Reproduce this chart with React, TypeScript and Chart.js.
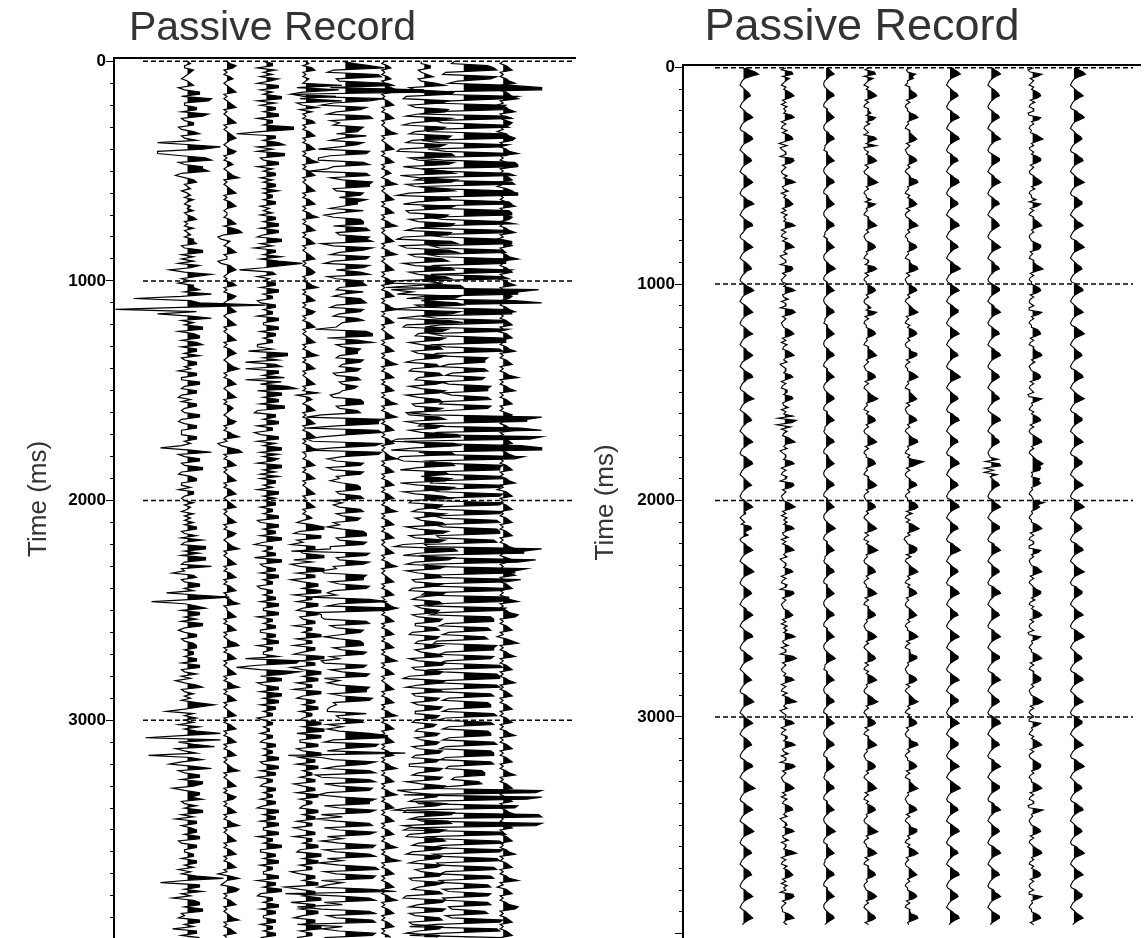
import React, { useEffect, useRef } from 'react';
import { Chart, registerables } from 'chart.js';

Chart.register(...registerables);

// Sampling interval of every trace, in milliseconds.
const SAMPLE_MS = 10;
// Times that carry a label and a dashed reference line.
const LABELED_TIMES = [0, 1000, 2000, 3000];
const PANEL_TITLE = 'Passive Record';
const AXIS_TITLE = 'Time (ms)';

// Trace amplitudes, one character per 10 ms sample, grouped by 100 ms.
// '0' = 0, 'A'..'Z' = +1..+26, 'a'..'z' = -1..-26 (amplitude steps).

// Left record: nine noisy channels.
const L1 = [
  '0AaaBA0ab0 ABcaDDbHGa aCCbGEbaBB cbBDbaCjAK EjjbFHcaEE GbdaBCa0Ab 0AaB0aA0Ba 0BCa0aBa0A aBBCbaEEbB bBcDAfaHCb',
  'AcBBDaHbrA DZbxCjAHbB aEEcBDDbCE bCCaDbaCCa AcCCbbDDab CCbcAbCCab aDDbcaCCbb bCCaAbiAHc aDDbaEEbcA CCbbAcBBab',
  'aBaA0bBaAa BaCCbaCbEa bFFaDbFFab HbaeBCbaDD aBgCNBlaCF bDDaCbEEac aCCbaBCCaB BaCCbDDbaC bAdaCEbaBa AbCIDagBaC',
  'aBcDaCKbnK cBIdaCmAEb fBHcaDDbEE BeaDDAEbaC aEEbBdCCbA CCaDDcbCCa aBBbCCaBcA bCLaiDDaEb AeBDDaEEba cDDaBeCCbD',
];
const L2 = [
  '0ACBa0aAB0 a0ABCa0a0A BCa0a0ABCa 0a0ABCA0a0 ACBa0aAB0a 0ABDa0a0AB Ca0aABC0a0 0aABCaBDEa cbA0aABCa0 0cbABCA0a0',
  'aBCa0aACB0 a0ABC0a0AB Ca0a0ABCa0 aABCA0a0AB DAa0aABC0a 0ABCa0aABA 0a0ACBa0aA BDa0cbADEa 0aABCa0a0A BCa0aABC0a',
  '0ABCa0a0AB Ca0aACB0a0 ABDa0a0ABC a0aABCa0aA BCa0aABDa0 0ABCa0aABC a0a0ACDa0a ABCa0a0ABC a0aABDa0aA BCa0a0ABCa',
  '0aABCa0aAB Ca0aABCa0a 0ABDa0a0AB Ca0aACBa0a ABCa0aABDa 0a0ABCa0aA BCa0aABCa0 cAD0abBDCa 0aABCa0a0A BDa0aABCa0',
];
const L3 = [
  'aBBcCaBbDA cDDbBaEEcC bCCaDDcBBa IIbjCCaDFc BcFFbaDDcB aCCbBaCCaD aBBaCCbAaB bCCaDDbDDa cEEbBdCCaE bDLEaiBCcA',
  'aCCbDDaBBc bCCaBBcDDa aDDbCCaBBc cBfGGaDgCE gDDaFgEbGJ cEEaDDbFFc dCCaDDcBBd bDDcCaEEbD aDBcEEaCbD bCCaBcDDaC',
  'aCCbBBaDDc bDDaCCbEEa dBBaCCdEEb aCCbDDaBBc bBBaCCbDDa aDDcBBaCCb bCCaDDcBBa aDgKJcjbKF bEEcaDDbEE aDDbCCaBBc',
  'aBBaAAbBBa bCCaBBaDDb aDDbCCcBBa bCCaBBbCCa cDDaCCbDDa aDDcBBaEEb bCCaDDbBBa aDDcCCaEEb cBBaDDbCCa aCCbBBaCCb',
];
const L4 = [
  '0AaBCa0aA0 aLcKaeJbLc aDbBa0aBCa 0aABCa0aAB Ca0aABDa0a ABCa0a0ABC a0aABCa0aA BDa0aABCa0 aABCa0a0AB Ca0aABCBa0',
  'aABDa0aABC a0aACBa0aA BCa0a0ABCa 0aABDa0aAB Ca0a0ABCa0 aDcAB0aABC a0aABCa0aA BCa0aABDa0 0aABCa0aAB Ca0a0ABCa0',
  'aABCa0aABa cBFFbdEEca eCCbaFFdBe bFFcCCeaDD aEEdBBcDDa cDDbaCCdBB aEEcBBdCCa dFFbCCeaEE aDDcBBdEEa cCCaDDbBBa',
  'bEEaFFcEEb bDDcaEEbCC cDDaBBbCCd aCCcDDbBBa bDDaCCcBBd aCCdBBaDDb cEEaDDbBBe bCCaDDgbCC aEEeCCbDDa dCCaEEbBBc',
];
const L5 = [
  'aCHMdfKLcb NPeZZrnMHd hGEcfHIebd FEDcGaeFDb iHGeiiFHdf lGHeaIHHdc FEbGDDaeFb gdEFFdGHcb HGIhdIFbeH GdgHFcEHfc',
  'EFGbcFadEF GceFEbdDFa bcjGIIfDIc aEDDbcFEab EDdcDEbaDC abedEFFcbD EhmLKKcmKL AhmkLJdmLK afcFEfdFEc beaDEEcbEF',
  'eadbEFcaED dbfaFGGcbG FeerHGcbHF dchgGFFebH GdfclHNbfQ NjhhgGHecF EagbEFFdaG FebhgGFeaH GgbfbHGGea IHdceffGcb',
  'EFfafbHNNd gKJafTshdJ GcgHJjhHJg bIHfiaJHHg bJHhajcHIg bJHfahbJIg cHJfaibJKg cJIhafiIQt cHJgaphHJf cIJpahbJIg',
];
const L6 = [
  '0aABa0aABa 0ABDCa0aAB Ca0aABCa0a 0ABDa0a0AB Ca0aABCa0a AB0aABDa0a 0ABCa0aABC a0aABDa0a0 ABCa0aABDa 0a0ABCa0aA',
  'BCa0aABCa0 aABDa0aABC a0a0ABCa0a ABCa0aABDa 0aABCa0aAB Ca0aABDa0a ABDa0aABCa 0aABCa0a0A BDa0aABCa0 aABCa0aABC',
  'a0aABDa0aA BCa0aABCa0 a0ABCa0aAB Da0a0ABCa0 aABCa0aABD a0aABCa0aA BCa0aABCa0 aABDa0aABC a0a0ABCa0a ABCa0aABDa',
  '0aABCa0aAB Ca0aABCa0a ABDa0aABCa 0aABDa0aAB Ca0aABCa0a ABCa0aABDa 0aABEa0aAB Ca0aABCa0a ABDa0aABCa 0aABCa0aAB',
];
const L7 = [
  'aaBBbaACba DGecJIfgHF ecHGbfIEdg GFceIHdfGE hiIJebJHga GJhbKIfcGJ eiHIbgJHfe HGebJIcfIH giIKhfHKec FHgcIJebGI',
  'jlLMkdiLJa KMckLIbiHM fgHFbcGEea EFdbGEcfDE deEFbcGDea GEfbEFdcFD feEGfbFDea KLikJLckIJ higIJbhGHa IGhbJHgcFI',
  'deFEbdGDca FGfbHFecGE gjJKbgJHcf GEfbEFdcFD deGFbdEFca EDdbFEccDE deEDbcFCca EFebGFdcFE egGFbfEFdc EDdbFEccED',
  'cdDCbcEDca EDdbFEcdED eeFEbdFEfa GFidEDceGD fjJIbeHIgc GEefFGbdGE dfFEbeFDca FEedGDbdEF fgGFbeGFec EFedFEbfED',
];
const L8 = [
  'cdHJKfgKIb ePZZohRNdk NMMlnNPjgM OklMOOnhOL lfPNpgQRRn hOQmpPQoiN RRmgOPnhOP PlgMQknNOm gLPPkhMNlh ONNjgPMkMO',
  'ngozYRRmsQ ZpnOPPniMN hmOLkgMNNj fLMikHGGeh GHdfGFheIH HgdHIghIHe skZUUnoSZi kZVtmSZZoj TQlhMLLkgL MjkMLlhMLj',
  'kMLlhMLjgK LjgKLLihJK mlZTTnkXRm kUQQliSNkj OLmnOOLilN MhkIJJfhHI egGHijKJJf hJIfhLMkgK LLgiKLhiIJ egHIIegJKf',
  'iIJegHIIeg JKfhIJJfhI JefFGGcdEF cnZXtZUpoR QstYZpnZXr tMNlhLMgkM LjgKLihJKf hIJhfHIgeI HgfHIedGHf dMLirKLgrM',
];
const L9 = [
  '0aABCa0aAB Da0bABCEa0 bABDa0aACB a0bABDCa0a ABEa0aABDa 0aABCa0bAC Da0aABDa0a ACBa0aABDa 0bABCa0aAB Ea0aABCa0b',
  'ABDa0aACBa 0aABDa0aAB Ca0bABCa0a ABDa0aABCa 0aABEa0aAB Da0aABCa0a ACBa0aABDa 0bABCa0aAB Da0aABCa0a ABDa0bABCa',
  '0aABCa0aAB Ca0aABCa0a ABDa0aACBa 0aABDa0aAB Ca0aABEa0a ABEDa0aABC a0bACEa0aA BDa0aABCa0 aABDa0aABC a0aABCa0aA',
  'BCa0aABDa0 aABCa0aABC a0aABDa0aA BCa0aABCa0 aABDa0aABC a0aABCa0aA BDa0aABCa0 aABEa0bABC a0aABEDa0a ABCa0aABCa',
];

// Right record: nine channels with a regular pulse every 100 ms.
const R1 = [
  'BEJMFAabca ACEFCAabca ACFHDAabcb BDGHEAabca ACFGDAabca BCFHEBabcb ACGIDAabca ADGHCA0bcb ACFHDAabca BDFGCAabcb',
  'ACGIEAabca BDFHDAabcb ACEHDAabca BCFHEBabca ADGHCAabcb ACFIDAabca BDFGCAabca ACFHDBabcb BDGHEAabca ACEGCAabcb',
  'ACFHDABaca AbFGCADacb ACFHDAabca BDGIEAabcb ACFGDAabca BCFHEBabca ADGHCAabcb ACFHDAabca ACEGCAabcb BDGIEAabca',
  'ACFHDAabca BDFGCAabcb ACGHDAabca BDGJEAabcb ACFHDAabca BDGIEAabcb ACFGCAabca ADFGCAabcb ACFHDAabca BDFHDAa',
];
const R2 = [
  'AcFGbDAacA aCFHDbAcBa AaFHBcAbcB bCFGAeBdbA AdGHEbAacb BaFIBbaCcA aCEGDbAcBa AaFIBcAbcB bCFHAaBdbA AdFGEbAacb',
  'BaFIBbaCcA AdGIEbAacb aCFHDbAcBa bCFHAaBdbA AaEGBcAbcB BaFGBbaCcA aGfJFgEcBa bCFIAaBdbA AaFHBcAbcB AdGHEbAacb',
  'aCFIDbAcBa BaFHBbaCcA bCFHAaBdbA AaEGBcAbcB AdGHEbAacb aCEGDbAcBa BaFIBbaCcA AdGJEbAacb AaFHBcAbcB bCFJAaBdbA',
  'AaFHBcAbcB BaFIBbaCcA AdGIEbAacb aCFHDbAcBa bCFGAaBdbA BaFHBbaCcA AaFJBcAbcB aCEGDbAcBa AdGHEbAacb bCFHAaB',
];
const R3 = [
  'ACEGCAabba ACFGCAabbA ACEGDAabba BCFGCAaabA ACEGCAabba ACFGCAabbA BCEGDAabba ACFGCAaabA ACEGCAabba ACFHDAabbA',
  'ACEGCAabba ACFGCAaabA ACEGDAabba BCFGCAabbA ACEGCAabba ACFGDAabbA ACEGCAaaba ACFGCAabbA BCEGDAabba ACFGCAabbA',
  'ACEGCAabba ACFHDAabbA ACEGCAaaba BCFGCAabbA ACEGDAabba ACFGCAabbA ACEGCAabba ACFHDAaabA ACEGCAabba BCFGCAabbA',
  'ACEGCAabba ACFGCAabbA ACEGDAaaba BCFGCAabbA ACEGCAabba ACFHDAabbA ACEGCAaaba ACFGCAabbA ACEGCAabba ACFGDAa',
];
const R4 = [
  'AbFGcEAacA aCFHDbAbcA ACaGEaBbca AcFHCaHcbA aCFHDbAacb ACFIEaAbca aCbGDa0bcA ACFHCaAbcb aCFGDa0bcA AbFHDbAbca',
  'aCFGDaAbcb ACaHEbAbca aCFGDa0bcA ADFHCaAacb aCFGDbAbca ACFIEa0bcA aCFGDaAbcb ACFHDbAbca aDFGCa0bcA ACFHEaAbcb',
  'aCFGDaAbca ACFHDbAbcA aCFIEa0bcb ADFGCaAbca aCFHDbAbcA ACFGDa0bcb aCFHEaAbca ACFGDbAbcA aCFHDa0bcb ADFIEaAbca',
  'aCFGDbAbcA ACFHDa0bcb aCFGEaAbca ADFHDbAbcA aCFGDa0bcb ACFIEaAbca aCFHDbAbcA ACFGDa0bcb aCFHEaAbca ACFGDbA',
];
const R5 = [
  'AbaFCDaacA ACFGDbAbca aBFHCa0bcA ACEGDbAacb aCFGCaAbca ABGHDa0bcA aCEGDbAbcb ACFHCaAbca aBFGDa0bcA ACGHDbAbcb',
  'aCFGCaAbca ACEHDb0bcA aCFGDaAbcb ABGGCbAbca aCFHDa0bcA ACEGDbAbcb aCFGCaAbca ACGHDa0bcA aCMHDbAbcb ABFGCaAbca',
  'aEGHEbCbcA bCFIEaAcdb aDGGEbBbca ACFHDaAbcA aCFGCb0bcb ACEGDaAbca aCFHDbAbcA ABGGCa0bcb aCFGDbAbca ACEHDaAbcA',
  'aCFGDb0bcb ABGHCaAbca aCFGDbAbcA ACEHDa0bcb aCFGCbAbca ABGGDaAbcA aCFHDb0bcb ACEGCaAbca aCFGDbAbcA ABGHDa0',
];
const R6 = [
  'BDGIEAabca ACFGDAabcb ACFHDAabca BDGHDAabcb ACFGCAabca BDGHEAabcb ACFGDAabca BDGHDAabcb ACFGCAabca BDGIEAabcb',
  'ACFHDAabca BDGGDAabcb ACFHDAabca ACFGCAabcb BDGIEAabca ACFGDAabcb BDGHDAabca ACFGCAabcb BDGHDAabca ACFGDAabcb',
  'BDGHDAabca ACFGCAabcb BDGIEAabca ACFGDAabcb BDGHDAabca ACFGCAabcb ACFHDAabca BDGGDAabcb ACFHDAabca BDGGCAabcb',
  'ACFHDAabca BDGGDAabcb ACFHDAabca BDGIEAabcb ACFGDAabca BDGHDAabcb ACFGCAabca BDGHDAabcb ACFGDAabca BDGHDAa',
];
const R7 = [
  'ACFHDAabca BDFGCAabcb ACFGDAabca BCFHCAabcb ADGGDAabca BCFHDAabcb ACFGCAabca BDFGDAabcb ACFHDAabca BCFGCAabcb',
  'ADGGDAabca BCFHDAabcb ACFGCAabca BDGHDAabcb ACFGDAabca BCFGCAabcb ADGHDAabca BCFGDAabcb aFeGHfBfEa ACFGCAabcb',
  'BCFHDAabca ADGGCAabcb BCFHDAabca ACFGDAabcb BDGHCAabca ACFGDAabcb BCFHDAabca ADGGCAabcb BCFHDAabca ACFGDAabcb',
  'BDGHDAabca ACFGCAabcb BCFHDAabca ADGGDAabcb BCFHCAabca ACFGDAabcb BDGHDAabca ACFGCAabcb BCFHDAabca ADGGDAa',
];
const R8 = [
  'AdbHDbAacA aCFGDbBbcA AdcGEaAbca bCFIDaAcbA aDGGCbAacb ACFHEaBbca aCcGDbAbcA ADFHCaAbcb aCGGEb0bcA ACFICbAbca',
  'aCFGDbAbcb AccHEaAbca aDFGCbAbcA ACGHDaBacb aCFGEbAbca AdcHDa0bcA aCFGCbAbcb ADGHDaAbca ACFIFGFa0a FEGDa0bca0',
  'AJDFCa0bca aCFHDbAbcA AccGEaAbcb aDFHCbAbca ACGGDaBbcA aCFHEbAbcb AdcGDa0bca aCFHCbAbcA ADGGDaAbcb aCFIEbAbca',
  'AccGDa0bcA aCFHCbAbcb ADGGEaAbca aCFHDbAbcA AdcIDa0bcb aCFGCbAbca ADGHDaAbcA aCFGEbAbcb AccHDa0bca aCFGCbA',
];
const R9 = [
  'BDHJEAabca ACFHDAabcb BDGIEAabca ACFGDAabcb BDGHDAabca ACFIEAabcb BDGGDAabca ACFHDAabcb BDGIEAabca ACFGDAabcb',
  'BDGHDAabca ACFHDAabcb BDGIEAabca ACFGDAabcb BDGHDAabca ACFIEAabcb BDGGDAabca ACFHDAabcb BDGGDAabca ACFHDAabcb',
  'BDGIEAabca ACFGDAabcb BDGHDAabca ACFIEAabcb BDGGDAabca ACFHDAabcb BDGIEAabca ACFGDAabcb BDGHDAabca ACFHDAabcb',
  'BDGGDAabca ACFHDAabcb BDGIEAabca ACFGDAabcb BDGHDAabca ACFGDAabcb BDGIEAabca ACFHDAabcb BDGGDAabca ACFHDAa',
];

const LEFT_TRACES = [L1, L2, L3, L4, L5, L6, L7, L8, L9];
const RIGHT_TRACES = [R1, R2, R3, R4, R5, R6, R7, R8, R9];

function decodeTrace(rows: string[]): number[] {
  const out: number[] = [];
  for (const ch of rows.join('').replace(/\s+/g, '')) {
    const c = ch.charCodeAt(0);
    if (c >= 65 && c <= 90) out.push(c - 64);
    else if (c >= 97 && c <= 122) out.push(-(c - 96));
    else out.push(0);
  }
  return out;
}

// Outline of the positive half of a trace: the samples clipped at zero,
// with the points where the drawn line crosses its baseline.
function positiveOutline(amps: number[]): { a: number; t: number }[] {
  const pts: { a: number; t: number }[] = [];
  for (let i = 0; i < amps.length; i++) {
    const a = amps[i];
    const t = i * SAMPLE_MS;
    pts.push({ a: Math.max(a, 0), t });
    if (i + 1 < amps.length) {
      const b = amps[i + 1];
      if ((a > 0 && b < 0) || (a < 0 && b > 0)) {
        pts.push({ a: 0, t: t + (SAMPLE_MS * a) / (a - b) });
      }
    }
  }
  return pts;
}

interface PanelLayout {
  traces: string[][];
  ampStep: number; // amplitude step in trace-spacing units
  lineWidth: number;
  xMin: number;
  xMax: number;
  gridFrom: number;
  gridTo: number;
  yMin: number;
  yMax: number;
  canvasLeft: number;
  canvasWidth: number;
  canvasHeight: number;
  axisWidth: number;
  padRight: number;
  padBottom: number;
  titleSize: number;
  titlePadTop: number;
  titlePadBottom: number;
  axisTitlePad: number;
}

const LEFT_PANEL: PanelLayout = {
  traces: LEFT_TRACES,
  ampStep: 0.076,
  lineWidth: 1.2,
  xMin: -0.863,
  xMax: 10.82,
  gridFrom: -0.128,
  gridTo: 10.744,
  yMin: -15,
  yMax: 4000,
  canvasLeft: -30,
  canvasWidth: 608,
  canvasHeight: 950,
  axisWidth: 144,
  padRight: 3,
  padBottom: 9,
  titleSize: 41,
  titlePadTop: 4,
  titlePadBottom: 4.8,
  axisTitlePad: 53,
};

const RIGHT_PANEL: PanelLayout = {
  traces: RIGHT_TRACES,
  ampStep: 0.028,
  lineWidth: 1.1,
  xMin: -0.465,
  xMax: 10.6,
  gridFrom: 0.31,
  gridTo: 10.43,
  yMin: -12.5,
  yMax: 4030,
  canvasLeft: 584,
  canvasWidth: 564,
  canvasHeight: 950,
  axisWidth: 99,
  padRight: 8,
  padBottom: 10,
  titleSize: 45,
  titlePadTop: 0.5,
  titlePadBottom: 10.5,
  axisTitlePad: 6,
};

const FONT = "'Liberation Sans', Arial, sans-serif";

function buildDatasets(p: PanelLayout) {
  const sets: any[] = [];
  p.traces.forEach((rows, idx) => {
    const base = idx + 1;
    const amps = decodeTrace(rows);
    // wiggle line
    sets.push({
      data: amps.map((a, i) => ({ x: base + a * p.ampStep, y: i * SAMPLE_MS })),
      borderColor: '#000',
      borderWidth: p.lineWidth,
      pointRadius: 0,
      tension: 0,
      fill: false,
    });
    // variable-area fill of the positive half
    sets.push({
      data: positiveOutline(amps).map((q) => ({ x: base + q.a * p.ampStep, y: q.t })),
      borderColor: 'rgba(0,0,0,0)',
      borderWidth: 1,
      backgroundColor: '#000',
      pointRadius: 0,
      tension: 0,
      fill: { value: base },
    });
  });
  LABELED_TIMES.forEach((t) => {
    sets.push({
      data: [
        { x: p.gridFrom, y: t },
        { x: p.gridTo, y: t },
      ],
      borderColor: '#000',
      borderWidth: 1.5,
      borderDash: [5, 3],
      pointRadius: 0,
      fill: false,
    });
  });
  return sets;
}

function makeConfig(p: PanelLayout): any {
  return {
    type: 'line',
    data: { datasets: buildDatasets(p) },
    options: {
      animation: false,
      responsive: false,
      indexAxis: 'y',
      events: [],
      layout: { padding: { left: 0, right: p.padRight, top: 0, bottom: p.padBottom } },
      plugins: {
        legend: { display: false },
        tooltip: { enabled: false },
        title: {
          display: true,
          text: PANEL_TITLE,
          color: '#333333',
          font: { family: FONT, size: p.titleSize, weight: 'normal', lineHeight: 1.2 },
          padding: { top: p.titlePadTop, bottom: p.titlePadBottom },
        },
      },
      scales: {
        x: {
          type: 'linear',
          position: 'top',
          min: p.xMin,
          max: p.xMax,
          ticks: { display: false },
          grid: { display: false, drawTicks: false },
          border: { display: true, color: '#000', width: 2 },
          afterFit: (s: any) => {
            s.height = 0;
          },
        },
        y: {
          type: 'linear',
          reverse: true,
          min: p.yMin,
          max: p.yMax,
          afterFit: (s: any) => {
            s.width = p.axisWidth;
          },
          ticks: {
            stepSize: 100,
            autoSkip: false,
            includeBounds: false,
            padding: 0,
            color: '#000',
            font: { family: FONT, size: 17, weight: 'bold' },
            callback: (v: number) => (LABELED_TIMES.includes(v) ? String(v) : ''),
          },
          grid: {
            display: true,
            drawOnChartArea: false,
            drawTicks: true,
            tickLength: 8,
            tickColor: '#000',
            tickWidth: 1,
            tickBorderDash: (ctx: any) =>
              ctx.tick && ctx.tick.value % 1000 === 0 ? [] : [0, 4, 4, 0],
          },
          border: { display: true, color: '#000', width: 2 },
          title: {
            display: true,
            text: AXIS_TITLE,
            color: '#333333',
            font: { family: FONT, size: 26, weight: 'normal', lineHeight: 1.2 },
            padding: { top: p.axisTitlePad, bottom: 0 },
          },
        },
      },
    },
  };
}

function RecordPanel({ layout }: { layout: PanelLayout }) {
  const ref = useRef<HTMLCanvasElement>(null);
  useEffect(() => {
    if (!ref.current) return;
    const chart = new Chart(ref.current, makeConfig(layout));
    return () => chart.destroy();
  }, [layout]);
  return (
    <canvas
      ref={ref}
      width={layout.canvasWidth}
      height={layout.canvasHeight}
      style={{
        position: 'absolute',
        left: layout.canvasLeft,
        top: 0,
        width: layout.canvasWidth,
        height: layout.canvasHeight,
      }}
    />
  );
}

export default function App() {
  return (
    <div
      style={{
        position: 'fixed',
        left: 0,
        top: 0,
        width: 1148,
        height: 938,
        overflow: 'hidden',
        background: '#fff',
      }}
    >
      <RecordPanel layout={LEFT_PANEL} />
      <RecordPanel layout={RIGHT_PANEL} />
    </div>
  );
}
